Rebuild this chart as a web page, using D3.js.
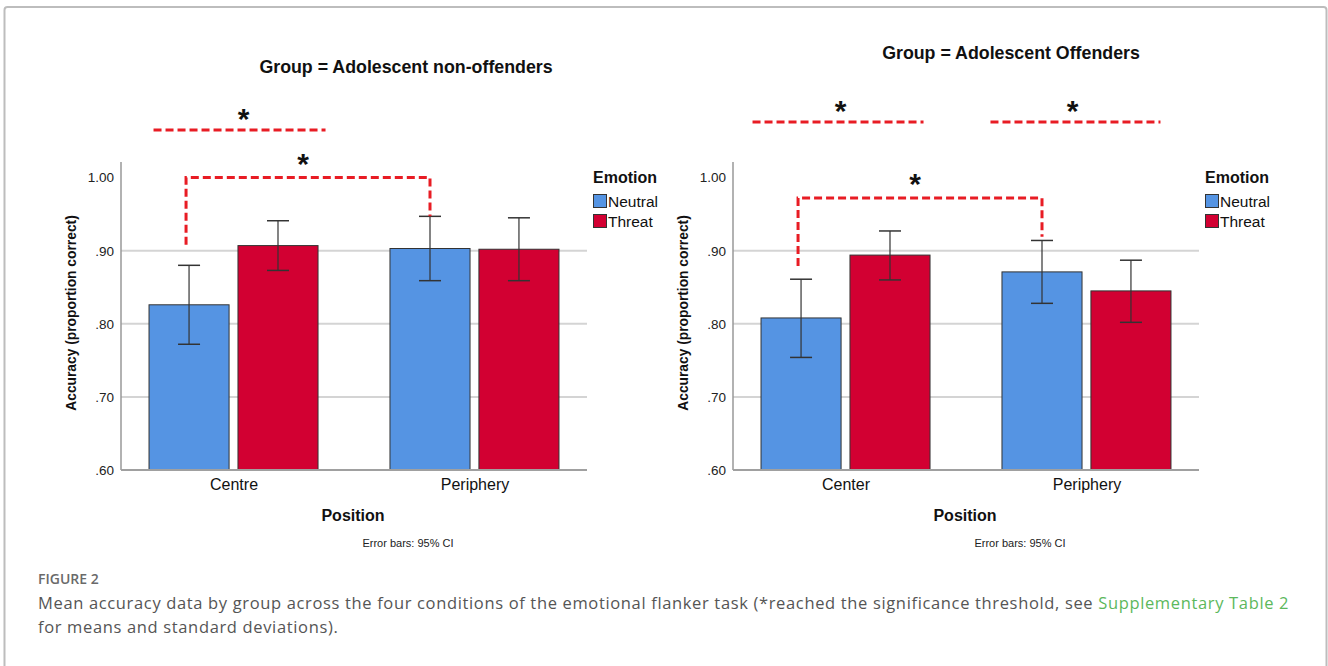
<!DOCTYPE html>
<html>
<head>
<meta charset="utf-8">
<script src="https://cdn.jsdelivr.net/npm/d3@7"></script>
<style>
  body { margin: 0; background: #fff; }
</style>
</head>
<body>
<div id="chart"></div>
<script>
// emotion levels + tick values
var emotions = ["Neutral", "Threat"];
var yTicks = [0.6, 0.7, 0.8, 0.9, 1.0];
var gridTicks = [0.7, 0.8, 0.9];

// adolescent non-offenders
var nonOffPositions = ["Centre", "Periphery"];
var nonOffNeutral = [0.826, 0.903];
var nonOffNeutralLo = [0.772, 0.859];
var nonOffNeutralHi = [0.880, 0.947];
var nonOffThreat = [0.907, 0.902];
var nonOffThreatLo = [0.873, 0.859];
var nonOffThreatHi = [0.941, 0.945];

// adolescent offenders
var offPositions = ["Center", "Periphery"];
var offNeutral = [0.808, 0.871];
var offNeutralLo = [0.754, 0.828];
var offNeutralHi = [0.861, 0.914];
var offThreat = [0.894, 0.845];
var offThreatLo = [0.860, 0.802];
var offThreatHi = [0.927, 0.887];

var colors = { Neutral: "#5594e3", Threat: "#d20032" };
var sigRed = "#e81c24";
var arial = "Liberation Sans, Arial, sans-serif";

var W = 1328, H = 666;

var svg = d3.select("#chart")
    .append("svg")
    .attr("width", W)
    .attr("height", H)
    .attr("font-family", arial);

// figure frame
svg.append("rect")
    .attr("x", 4.5).attr("y", 7)
    .attr("width", 1322).attr("height", 720)
    .attr("rx", 3)
    .attr("fill", "none")
    .attr("stroke", "#bdbdbd")
    .attr("stroke-width", 2);

function rows(positions, neutral, nLo, nHi, threat, tLo, tHi) {
    var out = [];
    positions.forEach(function(p, i) {
        out.push({ pos: p, emo: "Neutral", v: neutral[i], lo: nLo[i], hi: nHi[i] });
        out.push({ pos: p, emo: "Threat", v: threat[i], lo: tLo[i], hi: tHi[i] });
    });
    return out;
}

function drawPanel(ox, title, titleX, titleY, positions, data, sig) {
    var g = svg.append("g").attr("transform", "translate(" + ox + ",0)");

    var x0 = 121, x1 = 587, yTop = 162;
    var y = d3.scaleLinear().domain([0.6, 1.0]).range([470, 177.6]);
    var x = d3.scalePoint().domain(positions).range([x0, x1]).padding(0.467);
    var xe = d3.scaleBand().domain(emotions).range([-84.5, 84.5]).paddingInner(0.1);

    // title
    g.append("text")
        .attr("x", titleX).attr("y", titleY)
        .attr("text-anchor", "middle")
        .attr("font-size", 17.8).attr("font-weight", "bold")
        .attr("fill", "#111")
        .text(title);

    // grid lines
    g.selectAll(".grid")
        .data(gridTicks)
        .enter().append("line")
        .attr("x1", x0).attr("x2", x1)
        .attr("y1", function(d){ return y(d); })
        .attr("y2", function(d){ return y(d); })
        .attr("stroke", "#d4d4d4")
        .attr("stroke-width", 2);

    // y axis
    var yAxis = d3.axisLeft(y)
        .tickValues(yTicks)
        .tickFormat(function(d){ return d3.format(".2f")(d).replace(/^0/, ""); })
        .tickSize(0)
        .tickPadding(7);
    var ya = g.append("g").attr("transform", "translate(" + x0 + ",0)").call(yAxis);
    ya.select(".domain").remove();
    ya.attr("font-family", arial);
    ya.selectAll("text").attr("font-size", 13.5).attr("fill", "#222");
    g.append("line")
        .attr("x1", x0).attr("x2", x0)
        .attr("y1", yTop).attr("y2", y(0.6))
        .attr("stroke", "#999").attr("stroke-width", 1.5);

    // bars
    g.selectAll(".bar")
        .data(data)
        .enter().append("rect")
        .attr("x", function(d){ return x(d.pos) + xe(d.emo); })
        .attr("y", function(d){ return y(d.v); })
        .attr("width", xe.bandwidth())
        .attr("height", function(d){ return y(0.6) - y(d.v); })
        .attr("fill", function(d){ return colors[d.emo]; })
        .attr("stroke", "#333")
        .attr("stroke-width", 1);

    // error bars
    var eb = g.selectAll(".err")
        .data(data)
        .enter().append("g")
        .attr("transform", function(d){ return "translate(" + (x(d.pos) + xe(d.emo) + xe.bandwidth() / 2) + ",0)"; });
    eb.append("line")
        .attr("y1", function(d){ return y(d.lo); })
        .attr("y2", function(d){ return y(d.hi); })
        .attr("stroke", "#333").attr("stroke-width", 1.2);
    eb.append("line")
        .attr("x1", -11).attr("x2", 11)
        .attr("y1", function(d){ return y(d.lo); })
        .attr("y2", function(d){ return y(d.lo); })
        .attr("stroke", "#333").attr("stroke-width", 1.5);
    eb.append("line")
        .attr("x1", -11).attr("x2", 11)
        .attr("y1", function(d){ return y(d.hi); })
        .attr("y2", function(d){ return y(d.hi); })
        .attr("stroke", "#333").attr("stroke-width", 1.5);

    // x axis baseline + labels
    g.append("line")
        .attr("x1", x0).attr("x2", x1)
        .attr("y1", y(0.6)).attr("y2", y(0.6))
        .attr("stroke", "#a0a0a0").attr("stroke-width", 2);
    var xa = g.append("g").attr("transform", "translate(0," + y(0.6) + ")")
        .call(d3.axisBottom(x).tickSize(0).tickPadding(9));
    xa.select(".domain").remove();
    xa.attr("font-family", arial);
    xa.selectAll("text").attr("font-size", 16).attr("fill", "#111");

    g.append("text")
        .attr("x", 353).attr("y", 521)
        .attr("text-anchor", "middle")
        .attr("font-size", 16).attr("font-weight", "bold").attr("fill", "#111")
        .text("Position");
    g.append("text")
        .attr("x", 408).attr("y", 547)
        .attr("text-anchor", "middle")
        .attr("font-size", 11).attr("fill", "#222")
        .text("Error bars: 95% CI");

    g.append("text")
        .attr("transform", "translate(76,313) rotate(-90)")
        .attr("text-anchor", "middle")
        .attr("font-size", 13.8).attr("font-weight", "bold").attr("fill", "#111")
        .text("Accuracy (proportion correct)");

    // legend
    var lg = g.append("g").attr("transform", "translate(593,0)");
    lg.append("text")
        .attr("x", 0).attr("y", 183)
        .attr("font-size", 16).attr("font-weight", "bold").attr("fill", "#111")
        .text("Emotion");
    lg.selectAll(".sw")
        .data(emotions)
        .enter().append("rect")
        .attr("x", 0.5)
        .attr("y", function(d, i){ return 194.5 + i * 20; })
        .attr("width", 13).attr("height", 13)
        .attr("fill", function(d){ return colors[d]; })
        .attr("stroke", "#333").attr("stroke-width", 1);
    lg.selectAll(".lt")
        .data(emotions)
        .enter().append("text")
        .attr("x", 15)
        .attr("y", function(d, i){ return 207 + i * 20; })
        .attr("font-size", 15.5).attr("fill", "#111")
        .text(function(d){ return d; });

    // significance marks
    sig.lines.forEach(function(s) {
        var cx = x(s.pos);
        g.append("line")
            .attr("x1", cx + s.from).attr("x2", cx + s.to)
            .attr("y1", y(s.level)).attr("y2", y(s.level))
            .attr("stroke", sigRed).attr("stroke-width", 3)
            .attr("stroke-dasharray", "8,4");
        g.append("text")
            .attr("x", cx + s.star).attr("y", y(s.level) - 1)
            .attr("text-anchor", "middle")
            .attr("font-size", 30).attr("font-weight", "bold").attr("fill", "#111")
            .text("*");
    });
    var b = sig.bracket;
    var bx1 = x(b.pos1) + xe("Neutral") + xe.bandwidth() / 2 - 3;
    var bx2 = x(b.pos2) + xe("Neutral") + xe.bandwidth() / 2;
    g.append("path")
        .attr("d", "M" + bx1 + "," + y(b.leg1) + "V" + y(b.level) + "H" + bx2 + "V" + y(b.leg2))
        .attr("fill", "none")
        .attr("stroke", sigRed).attr("stroke-width", 3)
        .attr("stroke-dasharray", "8,4");
    g.append("text")
        .attr("x", (bx1 + bx2) / 2 - 5).attr("y", y(b.level) - 4)
        .attr("text-anchor", "middle")
        .attr("font-size", 30).attr("font-weight", "bold").attr("fill", "#111")
        .text("*");
}

drawPanel(0, "Group = Adolescent non-offenders", 406, 73, nonOffPositions,
    rows(nonOffPositions, nonOffNeutral, nonOffNeutralLo, nonOffNeutralHi, nonOffThreat, nonOffThreatLo, nonOffThreatHi),
    {
        lines: [{ pos: "Centre", from: -80, to: 92, level: 1.065, star: 10 }],
        bracket: { pos1: "Centre", pos2: "Periphery", level: 1.0, leg1: 0.908, leg2: 0.947 }
    });

drawPanel(612, "Group = Adolescent Offenders", 399, 59, offPositions,
    rows(offPositions, offNeutral, offNeutralLo, offNeutralHi, offThreat, offThreatLo, offThreatHi),
    {
        lines: [
            { pos: "Center", from: -93, to: 78, level: 1.076, star: -5 },
            { pos: "Periphery", from: -96, to: 74, level: 1.076, star: -14 }
        ],
        bracket: { pos1: "Center", pos2: "Periphery", level: 0.972, leg1: 0.879, leg2: 0.919 }
    });

// caption
svg.append("text")
    .attr("x", 38).attr("y", 584)
    .attr("font-family", "Open Sans, sans-serif")
    .attr("font-size", 14).attr("font-weight", 600).attr("fill", "#6a6a6a")
    .text("FIGURE 2");
var cap = svg.append("text")
    .attr("font-family", "Open Sans, sans-serif")
    .attr("font-size", 16.5).attr("letter-spacing", 0.65).attr("fill", "#555");
cap.append("tspan").attr("x", 38).attr("y", 609)
    .text("Mean accuracy data by group across the four conditions of the emotional flanker task (*reached the significance threshold, see ");
cap.append("tspan").attr("fill", "#5cb85c").text("Supplementary Table 2");
cap.append("tspan").attr("x", 38).attr("y", 633)
    .text("for means and standard deviations).");
</script>
</body>
</html>
